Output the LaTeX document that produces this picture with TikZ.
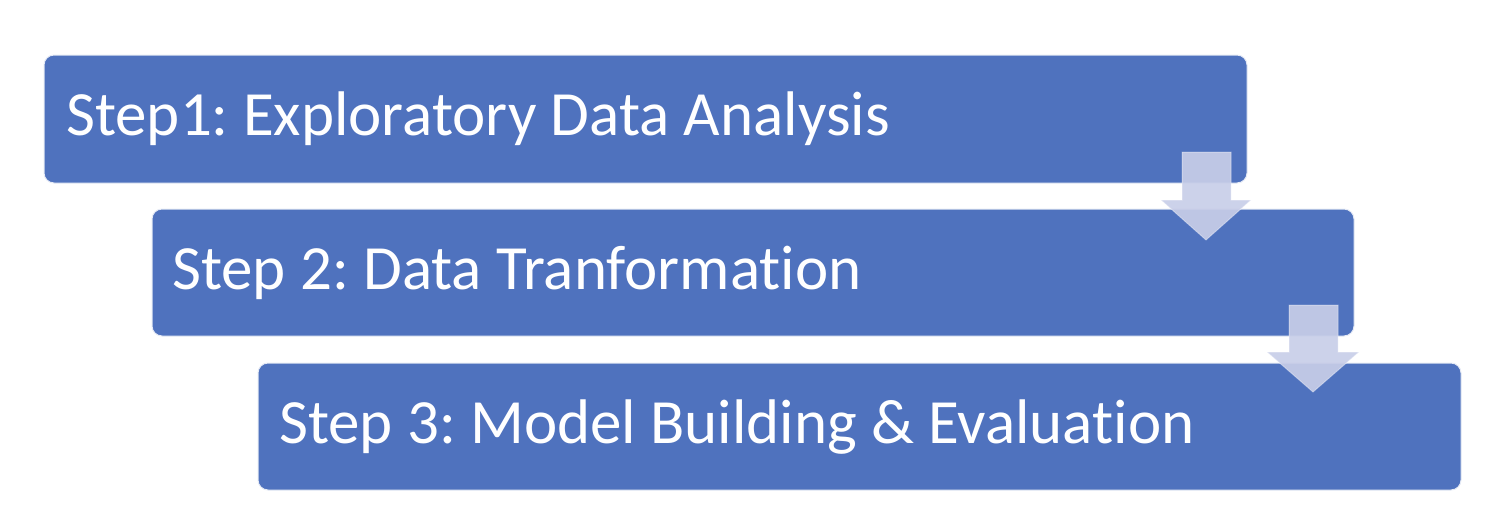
\documentclass[tikz,border=0pt]{standalone}
\usepackage{fontspec}
\setmainfont[Ligatures=NoCommon]{Carlito}
\frenchspacing
\definecolor{boxblue}{RGB}{79,114,190}
\definecolor{arrowfill}{RGB}{200,206,232}
\tikzset{
  stepbox/.style={fill=boxblue, draw=white!85!boxblue, line width=1pt, rounded corners=10pt},
  steptext/.style={anchor=base west, text=white, font=\fontsize{63}{70}\selectfont, inner sep=0pt},
  downarrow/.style={fill=arrowfill, fill opacity=0.92, draw=white, draw opacity=0.35, line width=1pt}
}
\begin{document}
\begin{tikzpicture}[x=1pt,y=-1pt]
\useasboundingbox (0,0) rectangle (1510,522);
\draw[stepbox] (44,55) rectangle (1247,183);
\draw[stepbox] (152,209) rectangle (1354,336);
\draw[stepbox] (258,363) rectangle (1461,490);
\node[steptext] (t1) at (66,135) {Step1: Exploratory Data Analysis};
\node[steptext] (t2) at (172,289) {Step 2: Data Tranformation};
\node[steptext] (t3) at (279,443) {Step 3: Model Building \& Evaluation};
\draw[downarrow] (1182,152) -- (1231,152) -- (1231,200) -- (1251,200) -- (1206,240) -- (1161,200) -- (1182,200) -- cycle;
\draw[downarrow] (1289,305) -- (1338,305) -- (1338,352) -- (1359,352) -- (1313,392) -- (1267,352) -- (1289,352) -- cycle;
\end{tikzpicture}
\end{document}
